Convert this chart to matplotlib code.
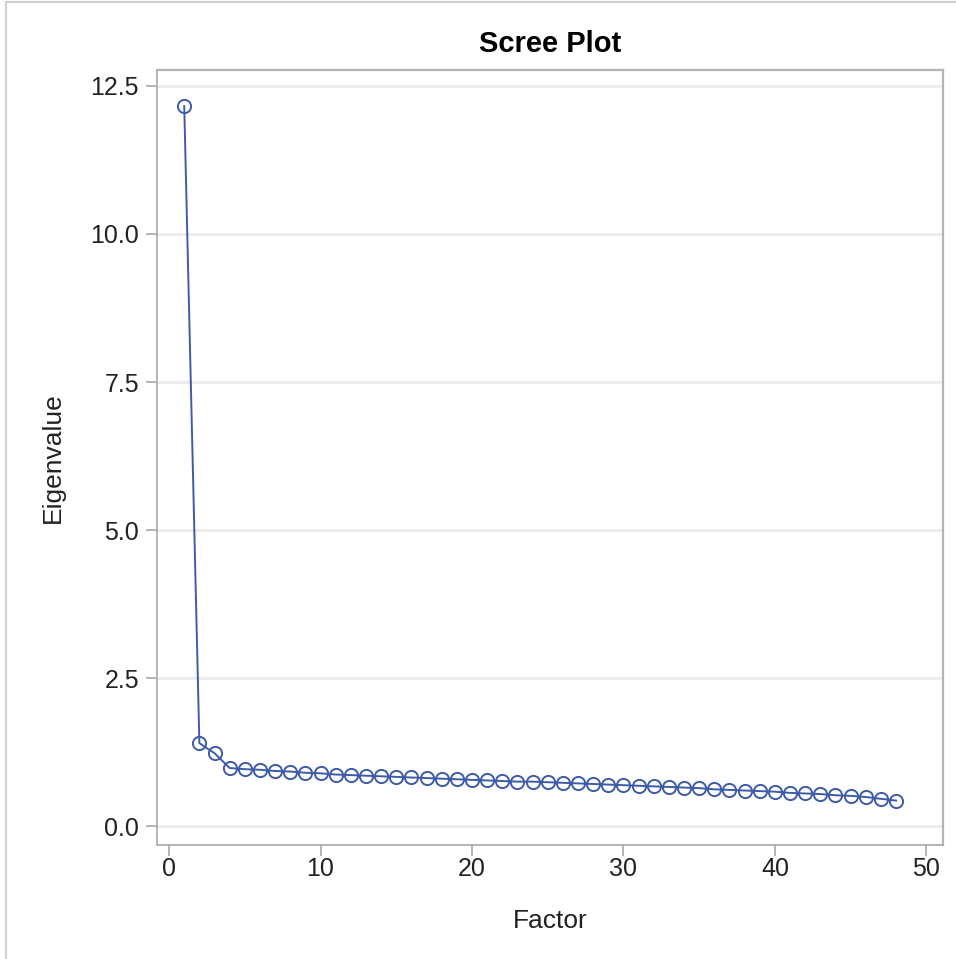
import matplotlib
matplotlib.use('Agg')
import matplotlib.pyplot as plt
from matplotlib.lines import Line2D

plt.rcParams['font.family'] = ['Liberation Sans', 'DejaVu Sans']

#%% eigenvalues
factors = list(range(1, 49))
eigenvalues = [12.16, 1.40, 1.23, 0.98, 0.96, 0.95, 0.93, 0.92, 0.90, 0.89,
               0.87, 0.86, 0.85, 0.84, 0.83, 0.82, 0.81, 0.80, 0.79, 0.78,
               0.77, 0.76, 0.75, 0.75, 0.74, 0.73, 0.72, 0.71, 0.70, 0.69,
               0.68, 0.67, 0.66, 0.65, 0.64, 0.62, 0.61, 0.60, 0.59, 0.58,
               0.56, 0.55, 0.54, 0.52, 0.51, 0.49, 0.46, 0.43]
x_ticks = [0, 10, 20, 30, 40, 50]
y_ticks = [0.0, 2.5, 5.0, 7.5, 10.0, 12.5]

#%% plot
fig = plt.figure(figsize=(9.56, 9.59), dpi=100)
ax = fig.add_axes([0.1642, 0.1189, 0.8222, 0.8081])

line_color = '#3d5ba8'
ax.plot(factors, eigenvalues, color=line_color, lw=1.4,
        marker='o', markersize=9.5, markerfacecolor='none',
        markeredgecolor=line_color, markeredgewidth=1.4, zorder=3)

ax.set_xlim(-0.8, 51.1)
ax.set_ylim(-0.32, 12.77)
ax.set_xticks(x_ticks)
ax.set_yticks(y_ticks)
ax.set_yticklabels([f'{v:.1f}' for v in y_ticks])
ax.yaxis.grid(True, color='#ececec', lw=2)
ax.set_axisbelow(True)

for side in ['left', 'bottom']:
    ax.spines[side].set_color('#a8a8a8')
    ax.spines[side].set_linewidth(1.2)
for side in ['top', 'right']:
    ax.spines[side].set_color('#b4b4b4')
    ax.spines[side].set_linewidth(1.6)

ax.tick_params(axis='both', colors='#a8a8a8', labelcolor='#222222',
               labelsize=18, length=8, width=1.2)
ax.tick_params(axis='x', pad=1)
ax.tick_params(axis='y', pad=5)

ax.set_title('Scree Plot', fontsize=21, fontweight='bold', pad=13)
ax.set_xlabel('Factor', fontsize=19, color='#222222', labelpad=20)
ax.set_ylabel('Eigenvalue', fontsize=19, color='#222222', labelpad=18)

# light frame of the output window
fig.add_artist(Line2D([0.0065, 0.0065], [0, 0.998], transform=fig.transFigure,
                      color='#d0d0d0', lw=1.5))
fig.add_artist(Line2D([0.0065, 1.0], [0.998, 0.998], transform=fig.transFigure,
                      color='#d0d0d0', lw=1.5))

plt.savefig('out.png', dpi=100)
